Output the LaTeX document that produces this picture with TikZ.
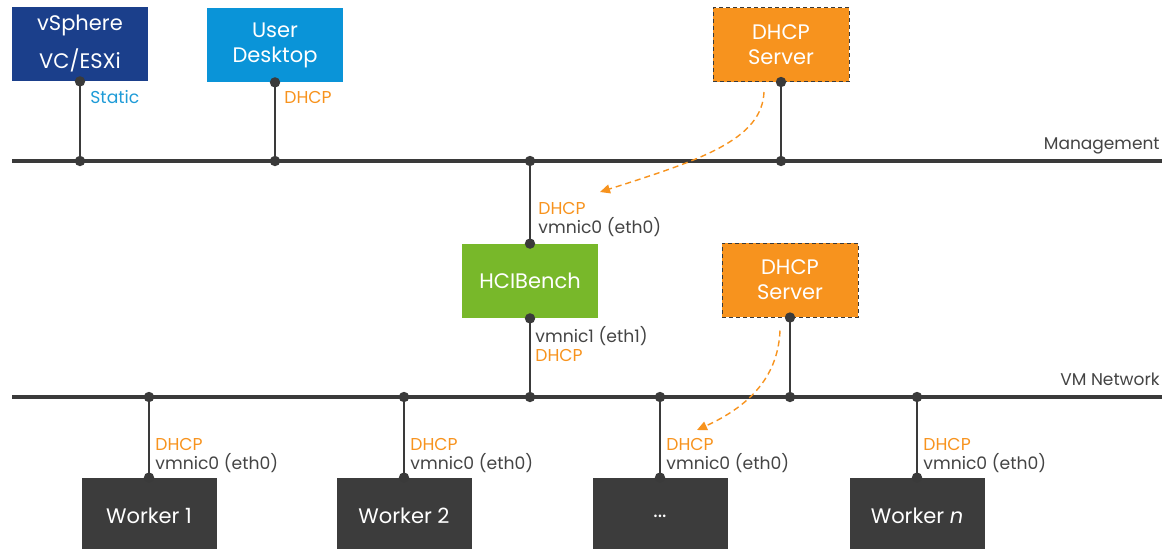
\documentclass[tikz,border=0pt]{standalone}
\usepackage{fontspec}
\setmainfont{Poppins}
\usetikzlibrary{arrows.meta}
\definecolor{vsblue}{HTML}{1B3F8B}
\definecolor{deskblue}{HTML}{0A94D8}
\definecolor{dhcporange}{HTML}{F7931E}
\definecolor{benchgreen}{HTML}{78B82A}
\definecolor{workergray}{HTML}{3C3C3C}
\definecolor{wiregray}{HTML}{3A3A3A}
\definecolor{labelgray}{HTML}{444444}
\definecolor{staticblue}{HTML}{1E9BD7}
\tikzset{
  box/.style={rectangle,inner sep=0pt,minimum width=68pt,minimum height=37pt,
    text=white,align=center,font=\fontsize{10.5}{13.5}\selectfont},
  server/.style={box,fill=dhcporange,draw=wiregray,line width=0.5pt,
    dash pattern=on 2pt off 1.5pt},
  worker/.style={box,fill=workergray,minimum width=67.5pt,minimum height=38pt},
  bus/.style={draw=wiregray,line width=2pt},
  wire/.style={draw=wiregray,line width=1.2pt},
  offer/.style={draw=dhcporange,line width=0.7pt,dash pattern=on 3pt off 2pt,
    -{Triangle[length=5pt,width=4.5pt]}},
  tag/.style={inner sep=0pt,align=left,text=labelgray,
    font=\fontsize{8.6}{9.5}\selectfont},
  netlabel/.style={inner sep=0pt,text=labelgray,font=\fontsize{8.5}{10}\selectfont}
}
\begin{document}
\begin{tikzpicture}[x=0.5pt,y=-0.5pt]
\useasboundingbox (0,0) rectangle (1167,548);
% networks
\coordinate (mgmtL) at (12,161);
\coordinate (mgmtR) at (1162,161);
\coordinate (vmnetL) at (12,397);
\coordinate (vmnetR) at (1162,397);
\draw[bus] (mgmtL) -- (mgmtR);
\draw[bus] (vmnetL) -- (vmnetR);
\node[netlabel,anchor=base east] (mgmtname) at (1160,149) {Management};
\node[netlabel,anchor=base east] (vmnetname) at (1160,385) {VM Network};
% taps on the networks
\coordinate (m1) at (80,161);
\coordinate (m2) at (275,161);
\coordinate (m3) at (530,161);
\coordinate (m4) at (781,161);
\coordinate (v1) at (149,397);
\coordinate (v2) at (404,397);
\coordinate (v3) at (530,397);
\coordinate (v4) at (660,397);
\coordinate (v5) at (790,397);
\coordinate (v6) at (917,397);
% boxes
\node[box,fill=vsblue] (vsphere) at (80,44) {vSphere\\[5.5pt]VC/ESXi};
\node[box,fill=deskblue] (desktop) at (275,45) {\raisebox{-1pt}{User}\\Desktop};
\node[server] (dhcpA) at (781,44.5) {\raisebox{-1pt}{DHCP}\\Server};
\node[box,fill=benchgreen] (bench) at (530,281) {HCIBench};
\node[server] (dhcpB) at (790,280) {\raisebox{-1pt}{DHCP}\\Server};
\begin{scope}
\clip (0,0) rectangle (1167,548);
\node[worker] (w1) at (149,516) {Worker 1};
\node[worker] (w2) at (404,516) {Worker 2};
\node[worker] (w3) at (660,516) {...};
\node[worker] (w4) at (917,516) {Worker \textit{n}};
\end{scope}
% wires
\draw[wire] (vsphere.south) -- (m1);
\draw[wire] (desktop.south) -- (m2);
\draw[wire] (dhcpA.south) -- (m4);
\draw[wire] (m3) -- (bench.north);
\draw[wire] (bench.south) -- (v3);
\draw[wire] (dhcpB.south) -- (v5);
\draw[wire] (v1) -- (w1.north);
\draw[wire] (v2) -- (w2.north);
\draw[wire] (v4) -- (w3.north);
\draw[wire] (v6) -- (w4.north);
\foreach \p in {m1,m2,m3,m4,v1,v2,v3,v4,v5,v6,vsphere.south,desktop.south,
  dhcpA.south,bench.north,bench.south,dhcpB.south,w1.north,w2.north,w3.north,w4.north}
  \fill[wiregray] (\p) circle (2.6pt);
% addresses
\node[tag,text=staticblue,anchor=west] (vsip) at (90,97) {Static};
\node[tag,text=dhcporange,anchor=west] (deskip) at (284,97) {DHCP};
\node[tag,anchor=west] (benchnic0) at (538,219.5) {\textcolor{dhcporange}{DHCP}\\vmnic0 (eth0)};
\node[tag,anchor=west] (benchnic1) at (535,344.5) {vmnic1 (eth1)\\\textcolor{dhcporange}{DHCP}};
\foreach \w in {w1,w2,w3,w4}
  \node[tag,anchor=west] (\w nic) at ([xshift=3pt]\w.north |- 0,455.5) {\textcolor{dhcporange}{DHCP}\\vmnic0 (eth0)};
% dhcp offers
\coordinate (offerA) at (600,192);
\coordinate (offerB) at (697,430);
\draw[offer] ([xshift=-8.5pt,yshift=-5pt]dhcpA.south) .. controls (762,140) and (700,160) .. (offerA);
\draw[offer] ([xshift=-5pt,yshift=-6.5pt]dhcpB.south) .. controls (778,380) and (745,408) .. (offerB);
\end{tikzpicture}
\end{document}
